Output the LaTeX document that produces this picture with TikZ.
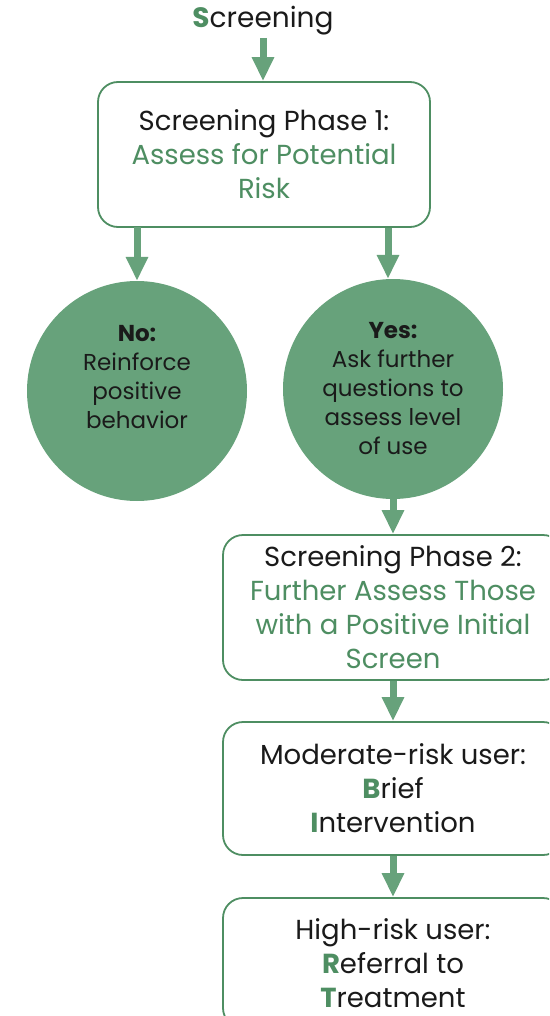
\documentclass[tikz,border=0pt]{standalone}
\usepackage{fontspec}
\setmainfont{Poppins}
\usetikzlibrary{arrows.meta}
\definecolor{fillgreen}{HTML}{67A27B}
\definecolor{textgreen}{HTML}{4E8E62}
\definecolor{txt}{HTML}{1A1A1A}
\tikzset{
  flow/.style={draw=fillgreen, line width=7pt, -{Triangle[width=21pt,length=24pt]}},
  box/.style={draw=textgreen, line width=1.8pt, rounded corners=20pt, fill=white,
    align=center, text=txt, font=\fontsize{27.5}{34}\selectfont, inner sep=0pt},
  disc/.style={circle, fill=fillgreen, minimum size=220pt, inner sep=0pt,
    align=center, text=txt, font=\fontsize{23}{29}\selectfont},
}
\newcommand{\gr}[1]{\textcolor{textgreen}{#1}}
\newcommand{\gb}[1]{\textcolor{textgreen}{\bfseries #1}}
\begin{document}
\begin{tikzpicture}[x=1pt,y=-1pt]
\useasboundingbox (0,0) rectangle (549,1016);
\clip (0,0) rectangle (549,1016);
\node[text=txt, font=\fontsize{28}{30}\selectfont, inner sep=0pt] (title) at (263,21) {\gb{S}creening};
\node[box, minimum width=332pt, minimum height=145pt] (p1) at (264,154.5)
  {Screening Phase 1:\\ \gr{Assess for Potential}\\ \gr{Risk}};
\node[disc] (no) at (137,391) {\textbf{No:}\\ Reinforce\\ positive\\ behavior\\ ~};
\node[disc] (yes) at (393,389) {\textbf{Yes:}\\ Ask further\\ questions to\\ assess level\\ of use};
\node[box, minimum width=340pt, minimum height=145pt] (p2) at (393,607.5)
  {Screening Phase 2:\\ \gr{Further Assess Those}\\ \gr{with a Positive Initial}\\ \gr{Screen}};
\node[box, minimum width=340pt, minimum height=133pt] (bi) at (393,788.5)
  {Moderate-risk user:\\ \gb{B}rief\\ \gb{I}ntervention};
\node[box, minimum width=340pt, minimum height=130pt] (rt) at (393,963)
  {High-risk user:\\ \gb{R}eferral to\\ \gb{T}reatment};
\coordinate (t0) at (263,38);
\draw[flow] (t0) -- (t0 |- p1.north);
\coordinate (a1) at (137,227);
\coordinate (a2) at (388,227);
\draw[flow] (a1) -- (no.north);
\draw[flow] (a2 |- p1.south) -- (yes.north -| a2);
\draw[flow] (yes.south) -- (p2.north);
\draw[flow] (p2.south) -- (bi.north);
\draw[flow] (bi.south) -- (rt.north);
\end{tikzpicture}
\end{document}
